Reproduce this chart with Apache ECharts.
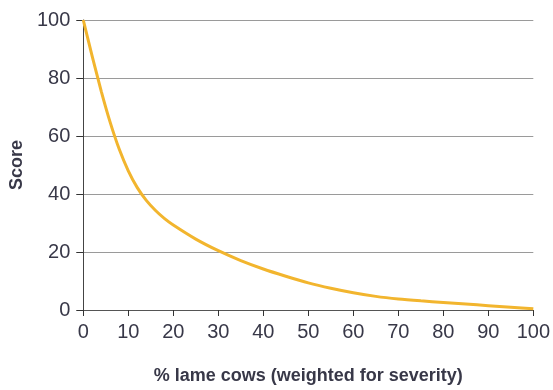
<!DOCTYPE html>
<html>
<head>
<meta charset="utf-8">
<script src="https://cdn.jsdelivr.net/npm/echarts@6/dist/echarts.min.js"></script>
<style>
html,body{margin:0;padding:0;background:#fff;}
#c{width:553px;height:390px;}
</style>
</head>
<body>
<div id="c"></div>
<script>
var xValues = [0, 2, 4, 6, 8, 10, 12, 14, 16, 18, 20, 25, 30, 35, 40, 45, 50, 55, 60, 65, 70, 75, 80, 85, 90, 95, 100];
var scores  = [100, 87.4, 75.4, 64.6, 55.4, 48.0, 42.2, 37.8, 34.4, 31.6, 29.3, 24.45, 20.45, 17.05, 14.15, 11.65, 9.35, 7.5, 5.95, 4.7, 3.8, 3.15, 2.6, 2.05, 1.5, 0.95, 0.4];
var xTicks = [0, 10, 20, 30, 40, 50, 60, 70, 80, 90, 100];
var yTicks = [0, 20, 40, 60, 80, 100];
var xTitle = '% lame cows (weighted for severity)';
var yTitle = 'Score';

var FONT = "'Liberation Sans Narrow', 'Liberation Sans', Arial, sans-serif";
var TXT = '#383848';
var pts = xValues.map(function (x, i) { return [x, scores[i]]; });

var chart = echarts.init(document.getElementById('c'), null, {renderer: 'canvas'});
chart.setOption({
  animation: false,
  backgroundColor: '#fff',
  grid: {left: 81, right: 13, top: 20, bottom: 72, containLabel: false},
  xAxis: {
    type: 'value', min: 0, max: 100, interval: 10,
    axisLine: {show: true, lineStyle: {color: '#555', width: 1}},
    axisTick: {show: true, length: 6, lineStyle: {color: '#333', width: 1}},
    splitLine: {show: false},
    axisLabel: {color: TXT, fontFamily: FONT, fontSize: 20, margin: 12},
    name: xTitle, nameLocation: 'middle', nameGap: 57,
    nameTextStyle: {color: TXT, fontFamily: FONT, fontSize: 18, fontWeight: 'bold'}
  },
  yAxis: {
    type: 'value', min: 0, max: 100, interval: 20,
    axisLine: {show: true, lineStyle: {color: '#444', width: 1}},
    axisTick: {show: true, length: 7, lineStyle: {color: '#333', width: 1}},
    splitLine: {show: true, lineStyle: {color: '#9a9a9a', width: 1}},
    axisLabel: {color: TXT, fontFamily: FONT, fontSize: 20, margin: 13},
    name: yTitle, nameLocation: 'middle', nameGap: 50, nameRotate: 90,
    nameTextStyle: {color: TXT, fontFamily: FONT, fontSize: 18, fontWeight: 'bold'}
  },
  series: [{
    type: 'line', data: pts, smooth: 0.2, showSymbol: false,
    lineStyle: {color: '#f2b52e', width: 3},
    z: 5
  }]
});
</script>
</body>
</html>
